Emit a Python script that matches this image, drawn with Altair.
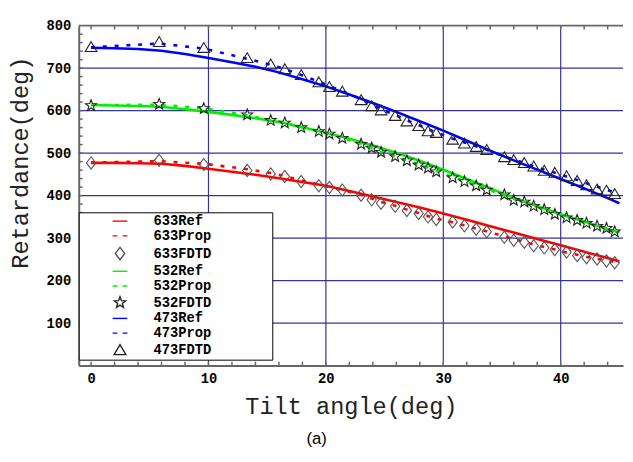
import math
import altair as alt
import pandas as pd

# ---------------- data ----------------
series_names = ["633Ref", "633Prop", "633FDTD",
                "532Ref", "532Prop", "532FDTD",
                "473Ref", "473Prop", "473FDTD"]

ref_x = [0, 2, 4, 6, 8, 10, 12, 14, 16, 18, 20, 22, 24, 26, 28, 30,
         32, 34, 36, 38, 40, 42, 44, 45]
red_ref = [477, 477, 476, 475, 470, 463, 456, 449, 441, 432, 423, 411,
           398, 385, 372, 358, 343, 328, 313, 298, 283, 268, 253, 245]
green_ref = [613, 612, 611, 609, 603, 597, 590, 582, 573, 561, 548, 534,
             518, 501, 482, 461, 439, 417, 395, 375, 356, 339, 321, 313]
blue_ref = [748, 747, 745, 741, 733, 724, 714, 703, 690, 674, 657, 638,
            618, 597, 575, 553, 529, 506, 483, 461, 439, 417, 394, 382]

fdtd_x = [0, 5.8, 9.6, 13.3, 15.3, 16.5, 17.9, 19.4, 20.3, 21.4, 23.0,
          23.9, 24.7, 25.9, 26.9, 27.9, 28.7, 29.4, 30.8, 31.8, 32.8,
          33.7, 35.2, 36.0, 36.9, 37.7, 38.6, 39.5, 40.5, 41.4, 42.2,
          43.1, 43.9, 44.6]
red_fdtd = [477, 483, 473, 459, 451, 445, 433, 423, 419, 413, 401, 390,
            382, 375, 365, 358, 350, 344, 338, 329, 321, 315, 302, 295,
            290, 282, 277, 273, 267, 259, 254, 251, 246, 242]
green_fdtd = [612, 615, 605, 590, 577, 571, 560, 551, 545, 535, 521, 512,
              502, 492, 482, 472, 465, 456, 442, 433, 423, 413, 402, 389,
              385, 375, 367, 356, 348, 342, 335, 328, 323, 315]
blue_fdtd = [750, 762, 748, 724, 709, 698, 684, 667, 656, 645, 625, 611,
             601, 588, 575, 564, 552, 548, 532, 523, 515, 508, 491, 484,
             477, 469, 459, 454, 446, 435, 425, 415, 412, 404]

red_prop = [478, 481, 475, 462, 453, 446, 436, 426, 420, 413, 402, 393,
            385, 376, 367, 359, 352, 346, 337, 330, 322, 316, 304, 298,
            291, 285, 279, 273, 266, 261, 256, 251, 247, 244]
green_prop = [613, 614, 606, 589, 578, 571, 561, 551, 545, 536, 522, 512,
              503, 493, 483, 473, 466, 458, 444, 434, 424, 415, 401, 392,
              385, 377, 367, 359, 350, 343, 336, 329, 323, 317]
blue_prop = [749, 758, 746, 722, 708, 698, 684, 668, 658, 646, 627, 614,
             603, 590, 577, 566, 556, 549, 534, 525, 516, 508, 492, 485,
             477, 469, 461, 454, 445, 437, 429, 421, 414, 407]

x_grid = [10, 20, 30, 40]
y_grid = [100, 200, 300, 400, 500, 600, 700]
x_labels = [0, 10, 20, 30, 40]
y_labels = [100, 200, 300, 400, 500, 600, 700, 800]
x_minor = list(range(0, 46, 2))
y_minor = list(range(20, 800, 20))

# ---------------- tables ----------------
def long(xs, ys, name):
    return pd.DataFrame({"x": xs, "y": ys, "series": name})

ref_df = pd.concat([long(ref_x, red_ref, "633Ref"),
                    long(ref_x, green_ref, "532Ref"),
                    long(ref_x, blue_ref, "473Ref")])
prop_df = pd.concat([long(fdtd_x, red_prop, "633Prop"),
                     long(fdtd_x, green_prop, "532Prop"),
                     long(fdtd_x, blue_prop, "473Prop")])
fdtd_df = pd.concat([long(fdtd_x, red_fdtd, "633FDTD"),
                     long(fdtd_x, green_fdtd, "532FDTD"),
                     long(fdtd_x, blue_fdtd, "473FDTD")])

# ---------------- styling ----------------
W, H = 554, 346
MONO = "Liberation Mono"
GRID = "#34349c"
AXC = "#666666"

pts = []
for i in range(10):
    r = 1.0 if i % 2 == 0 else 0.42
    a = -math.pi / 2 + i * math.pi / 5
    pts.append(f"{r*math.cos(a):.3f},{r*math.sin(a):.3f}")
STAR = "M" + "L".join(pts) + "Z"
LINE = "M-1.25,0L1.25,0"
DASH = "M-1.25,0L-0.45,0M0.45,0L1.25,0"
DIAM = "M0,-1.05L0.8,0L0,1.05L-0.8,0Z"
TRI = "M0,-0.9L1,0.8L-1,0.8Z"

colors = ["#ff0000", "#ff0000", "#555555",
          "#00ee00", "#00ee00", "#222222",
          "#0000ff", "#0000ff", "#222222"]
shapes = [LINE, DASH, DIAM, LINE, DASH, STAR, LINE, DASH, TRI]

legend = alt.Legend(
    title=None, orient="none", legendX=0, legendY=190,
    fillColor="white", strokeColor="black", padding=2,
    labelFont=MONO, labelFontWeight="bold", labelFontSize=14,
    labelColor="black", labelAlign="left",
    symbolSize=144, symbolStrokeWidth=1.4,
    symbolOffset=33, labelOffset=27, rowPadding=1,
    symbolFillColor="transparent",
    labelExpr="datum.label + '\u2800\u2800\u2800\u2800\u2800\u2800'",
)

color_enc = alt.Color("series:N",
                      scale=alt.Scale(domain=series_names, range=colors),
                      legend=legend)
shape_enc = alt.Shape("series:N",
                      scale=alt.Scale(domain=series_names, range=shapes),
                      legend=legend)

xs = alt.Scale(domain=[-1.05, 45.31], nice=False, zero=False)
ys = alt.Scale(domain=[0, 800], nice=False, zero=False)

x_axis = alt.Axis(values=x_labels, format="d", grid=False, ticks=False,
                  domain=True, domainColor=AXC, domainWidth=2,
                  labelFont=MONO, labelFontWeight="bold", labelFontSize=14,
                  labelColor="black", labelPadding=6,
                  title="Tilt angle(deg)", titleFont=MONO,
                  titleFontSize=24, titleFontWeight="normal",
                  titleColor="#222222", titlePadding=10)
y_axis = alt.Axis(values=y_labels, grid=False, ticks=False,
                  domain=True, domainColor=AXC, domainWidth=2,
                  labelFont=MONO, labelFontWeight="bold", labelFontSize=14,
                  labelColor="black", labelPadding=8,
                  title="Retardance(deg)", titleFont=MONO,
                  titleFontSize=24, titleFontWeight="normal",
                  titleColor="#222222", titlePadding=14, titleY=139)

xgrid = alt.Chart(pd.DataFrame({"x": x_grid})).mark_rule(
    color=GRID, strokeWidth=1.2).encode(
    x=alt.X("x:Q", scale=xs, axis=x_axis))
ygrid = alt.Chart(pd.DataFrame({"y": y_grid})).mark_rule(
    color=GRID, strokeWidth=1.2).encode(
    y=alt.Y("y:Q", scale=ys, axis=y_axis))

xmin_df = pd.DataFrame({"x": x_minor})
tick_bot = alt.Chart(xmin_df).mark_rule(color=AXC, strokeWidth=1.5).encode(
    x=alt.X("x:Q", scale=xs), y=alt.value(H), y2=alt.value(H - 4))
tick_top = alt.Chart(xmin_df).mark_rule(color=AXC, strokeWidth=1.5).encode(
    x=alt.X("x:Q", scale=xs), y=alt.value(0), y2=alt.value(4))
tick_left = alt.Chart(pd.DataFrame({"y": y_minor})).mark_rule(
    color=AXC, strokeWidth=1.5).encode(
    y=alt.Y("y:Q", scale=ys), x=alt.value(0), x2=alt.value(4))
top_border = alt.Chart(pd.DataFrame({"y": [800]})).mark_rule(
    color=AXC, strokeWidth=2).encode(
    y=alt.Y("y:Q", scale=ys), x=alt.value(0), x2=alt.value(W))

ref_lines = alt.Chart(ref_df).mark_line(strokeWidth=2.6).encode(
    x=alt.X("x:Q", scale=xs), y=alt.Y("y:Q", scale=ys),
    color=color_enc, detail="series:N")
prop_lines = alt.Chart(prop_df).mark_line(
    strokeWidth=2.6, strokeDash=[4, 8]).encode(
    x=alt.X("x:Q", scale=xs), y=alt.Y("y:Q", scale=ys),
    color=color_enc, detail="series:N")
fdtd_pts = alt.Chart(fdtd_df).mark_point(
    filled=False, size=140, strokeWidth=1.1, opacity=1).encode(
    x=alt.X("x:Q", scale=xs), y=alt.Y("y:Q", scale=ys),
    color=color_enc, shape=shape_enc)

chart = alt.layer(
    xgrid, ygrid, tick_bot, tick_top, tick_left, top_border,
    ref_lines, prop_lines, fdtd_pts
).properties(
    width=W, height=H,
    padding={"left": 0, "top": 7, "right": 0, "bottom": 0},
    title=alt.TitleParams("(a)", orient="bottom", font="Liberation Sans",
                          fontSize=17, fontWeight="normal", color="black",
                          anchor="middle", frame="bounds", offset=13),
    background="white",
).configure_view(stroke=None)

chart.save("out.html", embed_options={"renderer": "svg", "actions": False})
